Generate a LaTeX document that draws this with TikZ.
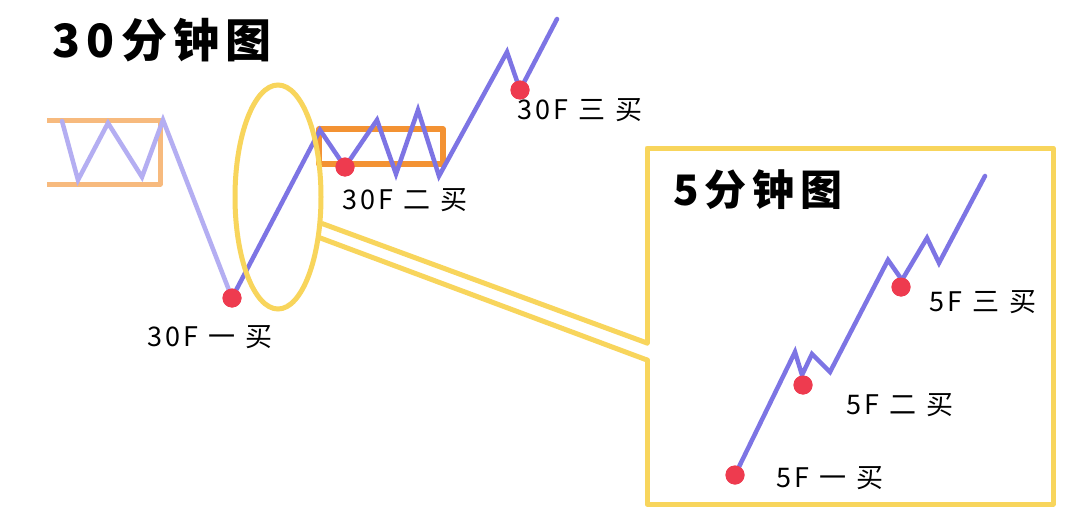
\documentclass[tikz,border=0pt]{standalone}
\usepackage{fontspec}
\usetikzlibrary{shapes.geometric}
\newfontfamily\cjk[LetterSpace=10]{Noto Sans CJK SC}
\newfontfamily\cjkt[LetterSpace=14]{Noto Sans CJK SC}
\definecolor{lorange}{HTML}{F7BA7E}
\definecolor{dorange}{HTML}{F39233}
\definecolor{lpurple}{HTML}{B4AEF2}
\definecolor{dpurple}{HTML}{7D74E4}
\definecolor{reddot}{HTML}{EE3B4F}
\definecolor{yel}{HTML}{F8D55C}
\begin{document}
\begin{tikzpicture}[x=1pt,y=-1pt,
  dot/.style={circle,fill=reddot,minimum size=19pt,inner sep=0pt},
  lbl/.style={font=\cjk\fontsize{27}{27}\selectfont,inner sep=0pt},
  ttl/.style={font=\cjkt\bfseries\fontsize{46}{46}\selectfont,inner sep=0pt},
  dline/.style={draw=dpurple,line width=4.5pt,line join=miter,line cap=round},
  lline/.style={draw=lpurple,line width=4.5pt,line join=miter,line cap=round},
  yline/.style={draw=yel,line width=5pt,line join=round,line cap=round}]
\useasboundingbox (0,0) rectangle (1080,530);
\fill[white] (0,0) rectangle (1080,530);
% titles
\node[ttl] (t30) at (162,40) {30分钟图};
\node[ttl,font=\cjkt\bfseries\fontsize{42}{42}\selectfont] (t5) at (758,190) {5分钟图};
% left bracket
\draw[lorange,line width=5pt,line join=round] (47,120) -- (160,120) -- (160,184) -- (47,184);
% light purple
\coordinate (a1) at (62,121);
\coordinate (a2) at (78,180);
\coordinate (a3) at (108,123);
\coordinate (a4) at (142,177);
\coordinate (a5) at (163,120);
\node[dot] (d1) at (232,298) {};
\draw[lline] (a1) -- (a2) -- (a3) -- (a4) -- (a5) -- (d1.center);
% orange box
\draw[dorange,line width=5.5pt,line join=round] (319,129) rectangle (443,164);
% dark purple 30F
\node[dot] (d2) at (345,167) {};
\node[dot] (d3) at (520,90) {};
\coordinate (b1) at (320,130);
\coordinate (b2) at (377,120);
\coordinate (b3) at (396,174);
\coordinate (b4) at (418,110);
\coordinate (b5) at (439,176);
\coordinate (b6) at (507,52);
\coordinate (b7) at (557,19);
\draw[dline] (d1.center) -- (b1) -- (d2.center) -- (b2) -- (b3) -- (b4) -- (b5) -- (b6) -- (d3.center) -- (b7);
% ellipse and callout
\node[ellipse,draw=yel,line width=5pt,minimum width=86pt,minimum height=224pt,inner sep=0pt] (el) at (278,197) {};
\coordinate (g1) at (647,343);
\coordinate (g2) at (647,360);
\draw[yline] (g1) -- (647,148) -- (1053,148) -- (1053,504) -- (647,504) -- (g2);
\draw[yline] (el.-31) -- (g1);
\draw[yline] (el.-44) -- (g2);
% 5F line
\node[dot] (e1) at (735,475) {};
\node[dot] (e2) at (803,385) {};
\node[dot] (e3) at (901,287) {};
\coordinate (c1) at (795,352);
\coordinate (c2) at (802,375);
\coordinate (c3) at (812,354);
\coordinate (c4) at (830,372);
\coordinate (c5) at (888,260);
\coordinate (c6) at (902,280);
\coordinate (c7) at (927,238);
\coordinate (c8) at (939,263);
\coordinate (c9) at (985,176);
\draw[dline] (e1.center) -- (c1) -- (c2) -- (c3) -- (c4) -- (c5) -- (c6) -- (c7) -- (c8) -- (c9);
\node[dot] at (e1) {};
\node[dot] at (e2) {};
\node[dot] at (e3) {};
\node[dot] at (d1) {};
\node[dot] at (d2) {};
\node[dot] at (d3) {};
% labels
\node[lbl] (l1) at (210,337) {30F\hspace{10pt}一\hspace{10pt}买};
\node[lbl] (l2) at (405,200) {30F\hspace{10pt}二\hspace{10pt}买};
\node[lbl] (l3) at (580,110) {30F\hspace{10pt}三\hspace{10pt}买};
\node[lbl] (m1) at (830,478) {5F\hspace{10pt}一\hspace{10pt}买};
\node[lbl] (m2) at (900,405) {5F\hspace{10pt}二\hspace{10pt}买};
\node[lbl] (m3) at (983,302) {5F\hspace{10pt}三\hspace{10pt}买};
\end{tikzpicture}
\end{document}
